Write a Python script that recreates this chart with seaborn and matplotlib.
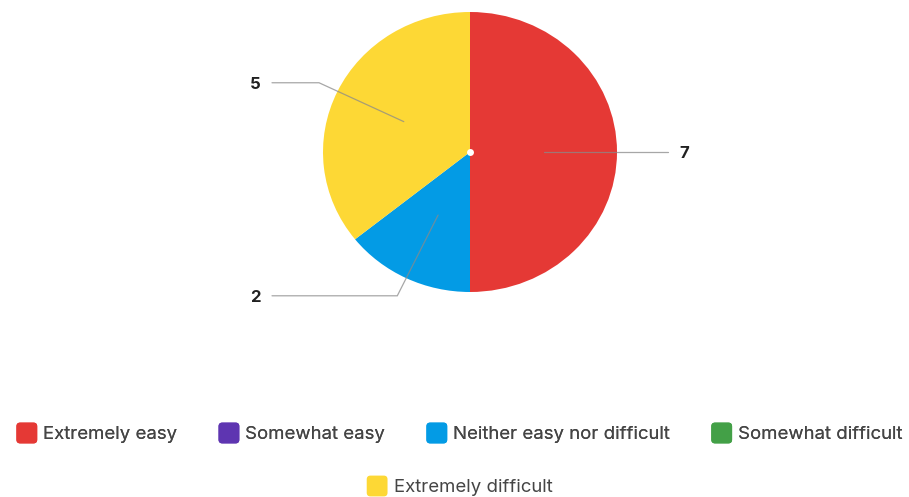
import numpy as np
import matplotlib
matplotlib.use("Agg")
import matplotlib.pyplot as plt
import seaborn as sns
from matplotlib.patches import FancyBboxPatch, Patch
from matplotlib.legend_handler import HandlerPatch

categories = ["Extremely easy", "Somewhat easy", "Neither easy nor difficult",
              "Somewhat difficult", "Extremely difficult"]
counts = [7, 0, 2, 0, 5]
colors = ["#E53935", "#5E35B1", "#039BE5", "#43A047", "#FDD835"]

sns.set_theme(style="white")
plt.rcParams["font.family"] = ["Inter", "DejaVu Sans"]

W, H = 909, 497
fig = plt.figure(figsize=(W / 100, H / 100), dpi=100)

# pie area in pixel terms: centre and radii
cx, cy, rx, ry = 470, 152, 147, 140
ax = fig.add_axes([(cx - rx) / W, (H - cy - ry) / H, 2 * rx / W, 2 * ry / H])

wedges, _ = ax.pie(counts, colors=colors, startangle=90, counterclock=False,
                   radius=1, wedgeprops=dict(linewidth=0))
ax.set_aspect("auto")
ax.set_xlim(-1, 1)
ax.set_ylim(-1, 1)
ax.axis("off")

# value labels with leader lines
line_end = 1.347
for w, v in zip(wedges, counts):
    if v == 0:
        continue
    mid = np.deg2rad((w.theta1 + w.theta2) / 2)
    ux, uy = np.cos(mid), np.sin(mid)
    x0, y0 = 0.5 * ux, 0.5 * uy
    x1, y1 = 1.14 * ux, 1.14 * uy
    side = 1 if ux > 1e-6 else -1
    x2 = side * line_end
    ax.plot([x0, x1, x2], [y0, y1, y1], color="#8a8a8a", lw=0.9,
            alpha=0.75, clip_on=False, solid_joinstyle="miter")
    ax.text(x2 + side * 0.08, y1 - 0.01, str(v), ha="left" if side > 0 else "right",
            va="center", fontsize=12, fontweight="bold", color="#212121")

ax.plot([0], [0], marker="o", markersize=5, color="white",
        markeredgewidth=0, clip_on=False)


def rounded_square(legend, orig_handle, xdescent, ydescent, width, height, fontsize):
    size = min(width, height)
    return FancyBboxPatch((-xdescent + (width - size) / 2, -ydescent + (height - size) / 2),
                          size, size, boxstyle=f"round,pad=0,rounding_size={size * 0.18}",
                          linewidth=0)


handles = [Patch(facecolor=c, edgecolor="none") for c in colors]
hmap = {h: HandlerPatch(patch_func=rounded_square) for h in handles}
fs = 13.4
px = fs * 100 / 72
leg_kw = dict(frameon=False, fontsize=fs, handlelength=23 / px, handleheight=25 / px,
              handletextpad=5 / px, columnspacing=40 / px, labelcolor="#454545",
              handler_map=hmap, borderpad=0, borderaxespad=0)

leg1 = fig.legend(handles[:4], categories[:4], ncol=4, loc="center",
                  bbox_to_anchor=(459 / W, 1 - 433 / H), **leg_kw)
fig.add_artist(leg1)
fig.legend(handles[4:], categories[4:], ncol=1, loc="center",
           bbox_to_anchor=(459 / W, 1 - 486 / H), **leg_kw)

fig.savefig("out.png", dpi=100, facecolor="white")
